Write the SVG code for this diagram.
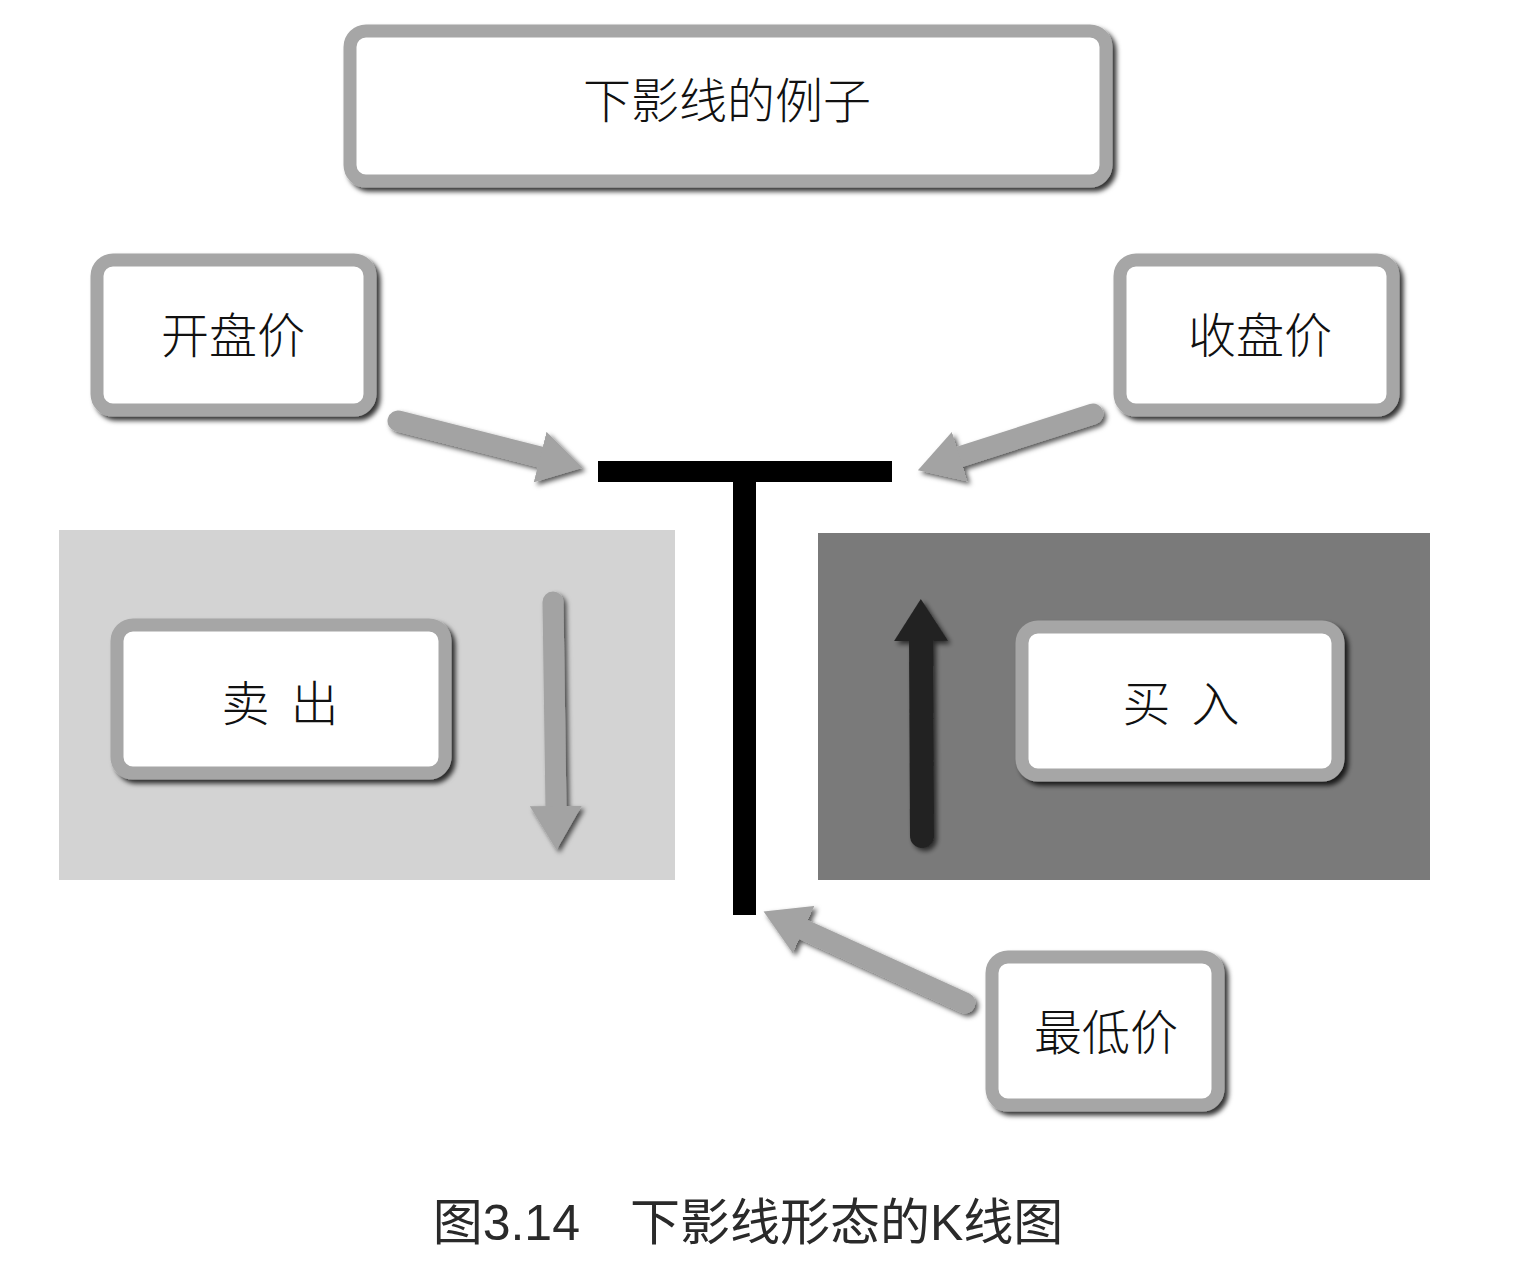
<svg xmlns="http://www.w3.org/2000/svg" width="1525" height="1269" viewBox="0 0 1525 1269">
<style>
.box{fill:#fff;stroke:#a6a6a6;stroke-width:13}
.lbl{font-family:"Noto Sans CJK SC","Noto Sans",sans-serif;font-weight:300;font-size:48px;fill:#111;text-anchor:middle}
.cap{font-family:"Liberation Sans","Noto Sans CJK SC",sans-serif;font-weight:400;font-size:50px;fill:#2a2a2a;text-anchor:middle}
.ga{stroke:#a3a3a3;stroke-width:21;stroke-linecap:round;fill:none}
.da{stroke:#222;stroke-width:24;stroke-linecap:round;fill:none}
</style>
<defs>
<filter id="sh" x="-20%" y="-20%" width="140%" height="140%">
<feDropShadow dx="4" dy="4" stdDeviation="2.5" flood-color="#000" flood-opacity="0.8"/>
</filter>
<filter id="sh2" x="-20%" y="-20%" width="140%" height="140%">
<feDropShadow dx="3" dy="3" stdDeviation="2.5" flood-color="#000" flood-opacity="0.65"/>
</filter>
<marker id="hg" markerUnits="userSpaceOnUse" markerWidth="46" markerHeight="52" refX="4" refY="26" orient="auto">
<path d="M0,0 L44,26 L0,52 z" fill="#a3a3a3"/>
</marker>
<marker id="hd" markerUnits="userSpaceOnUse" markerWidth="46" markerHeight="54" refX="4" refY="27" orient="auto">
<path d="M0,0 L42,27 L0,54 z" fill="#222"/>
</marker>
</defs>
<rect width="1525" height="1269" fill="#fff"/>
<g id="regions">
<rect x="59" y="530" width="616" height="350" fill="#d3d3d3"/>
<rect x="818" y="533" width="612" height="347" fill="#7a7a7a"/>
</g>
<g id="kline" fill="#000">
<rect x="598" y="461" width="294" height="21"/>
<rect x="733" y="480" width="23" height="435"/>
</g>
<g id="connectors">
<g filter="url(#sh2)">
<line class="ga" x1="398" y1="421" x2="544" y2="458" marker-end="url(#hg)"/>
<line class="ga" x1="1093" y1="414" x2="956" y2="458" marker-end="url(#hg)"/>
<line class="ga" x1="965" y1="1003" x2="800" y2="928" marker-end="url(#hg)"/>
<line class="ga" x1="553" y1="602" x2="556" y2="810" marker-end="url(#hg)"/>
<line class="da" x1="922" y1="836" x2="921" y2="637" marker-end="url(#hd)"/>
</g>
</g>
<g id="title">
<rect class="box" x="350" y="31" width="756" height="150" rx="16" filter="url(#sh)"/>
<text class="lbl" x="727" y="118">下影线的例子</text>
</g>
<g id="open">
<rect class="box" x="97" y="260" width="273" height="150" rx="16" filter="url(#sh)"/>
<text class="lbl" x="233" y="353">开盘价</text>
</g>
<g id="close">
<rect class="box" x="1120" y="260" width="273" height="150" rx="16" filter="url(#sh)"/>
<text class="lbl" x="1260" y="353">收盘价</text>
</g>
<g id="sell">
<rect class="box" x="117" y="625" width="328" height="148" rx="16" filter="url(#sh)"/>
<text class="lbl" x="280" y="721" xml:space="preserve">卖  出</text>
</g>
<g id="buy">
<rect class="box" x="1022" y="627" width="316" height="148" rx="16" filter="url(#sh)"/>
<text class="lbl" x="1181" y="721" xml:space="preserve">买  入</text>
</g>
<g id="low">
<rect class="box" x="992" y="957" width="226" height="148" rx="16" filter="url(#sh)"/>
<text class="lbl" x="1106" y="1050">最低价</text>
</g>
<text class="cap" x="748" y="1240">图3.14　下影线形态的K线图</text>
</svg>
